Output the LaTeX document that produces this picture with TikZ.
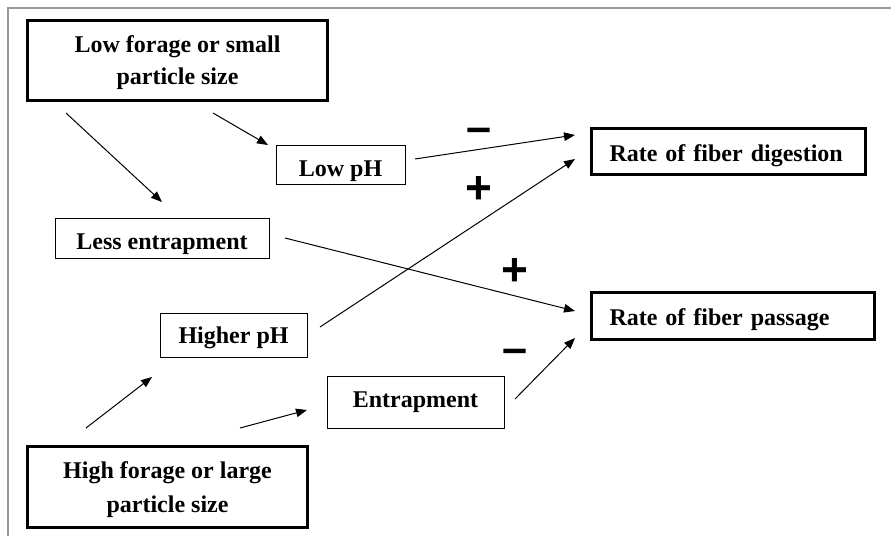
\documentclass[tikz,border=0pt]{standalone}
\usepackage{fontspec}
\setmainfont{Liberation Serif}
\newfontfamily\signfont{Liberation Sans}
\usetikzlibrary{arrows.meta}
\begin{document}
\begin{tikzpicture}[x=1pt,y=-1pt,
  thinbox/.style={draw=black,line width=0.9pt,inner sep=0pt,font=\fontsize{24}{30}\selectfont\bfseries,align=center,text depth=0pt},
  thickbox/.style={draw=black,line width=3.2pt,inner sep=0pt,font=\fontsize{24}{32}\selectfont\bfseries,align=center,text depth=0pt},
  conn/.style={line width=1pt,-{Triangle[length=11pt,width=8.5pt]}},
  sign/.style={inner sep=0pt}]
\useasboundingbox (0,0) rectangle (891,536);
\fill[white] (0,0) rectangle (891,536);
\draw[gray!80,line width=1.5pt] (8,536) -- (8,8) -- (891,8);
% boxes
\node[thickbox,minimum width=300pt,minimum height=80pt] (lowf) at (177.5,60.5) {Low forage or small\\particle size};
\node[thinbox,minimum width=129pt,minimum height=39pt,text height=24pt] (lowph) at (340.5,164.5) {Low pH};
\node[thinbox,minimum width=214pt,minimum height=40pt,text height=21pt] (less) at (162,238.5) {Less entrapment};
\node[thinbox,minimum width=147pt,minimum height=44pt,text height=16.6pt] (higher) at (233.5,335) {Higher pH};
\node[thinbox,minimum width=177pt,minimum height=52pt,text height=11.4pt] (entr) at (415.5,402) {Entrapment};
\node[thickbox,minimum width=280pt,minimum height=81pt,font=\fontsize{24}{34}\selectfont\bfseries] (highf) at (167.5,487) {High forage or large\\particle size};
\node[thickbox,minimum width=274pt,minimum height=46pt,text width=238pt,align=left,text height=19pt] (dig) at (728.5,151.5) {Rate of fiber digestion};
\node[thickbox,minimum width=283pt,minimum height=47pt,text width=247pt,align=left,text height=18.6pt] (pas) at (733,316) {Rate of fiber passage};
% connector endpoints
\coordinate (a1s) at (66,113); \coordinate (a1e) at (162,202);
\coordinate (a2s) at (213,113); \coordinate (a2e) at (268,145);
\coordinate (a3s) at (415,159); \coordinate (a3e) at (575,135);
\coordinate (a4s) at (285,238); \coordinate (a4e) at (575,311);
\coordinate (a5s) at (320,327); \coordinate (a5e) at (575,159);
\coordinate (a6s) at (86,428); \coordinate (a6e) at (152,377);
\coordinate (a7s) at (240,428); \coordinate (a7e) at (307,410);
\coordinate (a8s) at (515,399); \coordinate (a8e) at (575,338);
\draw[conn] (a1s) -- (a1e);
\draw[conn] (a2s) -- (a2e);
\draw[conn] (a3s) -- (a3e);
\draw[conn] (a4s) -- (a4e);
\draw[conn] (a5s) -- (a5e);
\draw[conn] (a6s) -- (a6e);
\draw[conn] (a7s) -- (a7e);
\draw[conn] (a8s) -- (a8e);
% signs
\node[sign,font=\signfont\bfseries\fontsize{45}{45}\selectfont] (s1) at (479,135) {\textendash};
\node[sign,font=\signfont\bfseries\fontsize{46}{46}\selectfont] (s2) at (479,190) {+};
\node[sign,font=\signfont\bfseries\fontsize{46}{46}\selectfont] (s3) at (515,272) {+};
\node[sign,font=\signfont\bfseries\fontsize{45}{45}\selectfont] (s4) at (515,356) {\textendash};
\end{tikzpicture}
\end{document}
